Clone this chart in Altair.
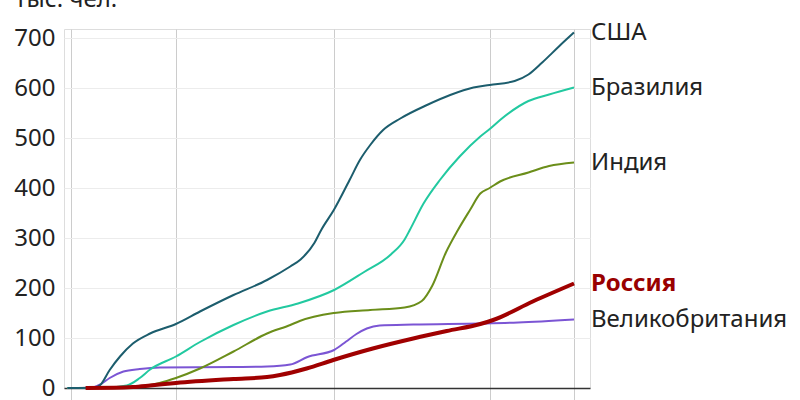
import altair as alt
import pandas as pd

FONT = "Noto Sans"

# ---- data (thousands of deaths, cumulative) ----
usa_dates = ["2020-02-26", "2020-03-28", "2020-04-04", "2020-04-15", "2020-04-27", "2020-05-12",
             "2020-06-01", "2020-07-01", "2020-07-29", "2020-09-06", "2020-10-15", "2020-11-11",
             "2020-11-23", "2020-12-09", "2020-12-17", "2021-01-01", "2021-01-19", "2021-01-31",
             "2021-02-12", "2021-02-27", "2021-03-19", "2021-04-19", "2021-05-16", "2021-06-12",
             "2021-07-01", "2021-07-30", "2021-08-15", "2021-08-31", "2021-09-20", "2021-10-07"]
usa_vals = [0, 0.5, 6, 36, 63, 89,
            109, 128, 153, 186, 216, 243,
            257, 290, 316, 357, 416, 456,
            486, 516, 539, 566, 586, 601,
            606, 614, 627, 651, 684, 711]

brazil_dates = ["2020-02-26", "2020-04-10", "2020-05-05", "2020-05-20", "2020-06-01", "2020-07-01",
                "2020-07-29", "2020-09-06", "2020-10-15", "2020-11-20", "2021-01-01", "2021-02-04",
                "2021-03-08", "2021-03-24", "2021-03-30", "2021-04-15", "2021-05-04", "2021-05-27",
                "2021-06-20", "2021-07-01", "2021-07-13", "2021-08-15", "2021-09-08", "2021-10-07"]
brazil_vals = [0, 0.5, 5, 20, 37, 63,
               92, 126, 153, 169, 196, 231,
               267, 297, 316, 369, 416, 463,
               503, 518, 536, 574, 587, 601]

india_dates = ["2020-02-26", "2020-04-10", "2020-05-20", "2020-06-12", "2020-07-01", "2020-07-29",
               "2020-09-06", "2020-10-15", "2020-11-11", "2020-11-22", "2021-01-01", "2021-02-12",
               "2021-03-24", "2021-04-13", "2021-04-25", "2021-05-11", "2021-05-25", "2021-06-08",
               "2021-06-20", "2021-07-01", "2021-07-13", "2021-08-15", "2021-09-08", "2021-10-07"]
india_vals = [0, 0.3, 3, 10, 20, 39,
              73, 109, 126, 134, 150, 156,
              161, 174, 204, 271, 316, 356,
              389, 400, 413, 431, 444, 451]

uk_dates = ["2020-02-26", "2020-03-25", "2020-04-05", "2020-04-15", "2020-05-01", "2020-05-20",
            "2020-06-12", "2020-09-06", "2020-10-15", "2020-11-11", "2020-12-01", "2021-01-01",
            "2021-01-15", "2021-01-27", "2021-02-08", "2021-02-23", "2021-04-03", "2021-06-20",
            "2021-08-03", "2021-10-07"]
uk_vals = [0, 0.5, 8, 20, 33, 38,
           41, 42, 43, 47, 62, 76,
           93, 108, 119, 125, 127, 129,
           131, 137]

russia_dates = ["2020-03-18", "2020-04-20", "2020-05-12", "2020-06-01", "2020-07-01", "2020-09-06",
                "2020-10-15", "2020-10-30", "2020-11-30", "2020-12-31", "2021-02-15", "2021-04-03",
                "2021-05-12", "2021-06-20", "2021-07-05", "2021-08-20", "2021-10-07"]
russia_vals = [0, 0.5, 2, 5, 10, 18,
               22, 26, 39, 56, 79, 99,
               114, 128, 136, 173, 209]

countries = ["США", "Бразилия", "Индия", "Великобритания", "Россия"]
colors = ["#1c5d6d", "#22c9a0", "#6b8e1a", "#7b55d4", "#a00000"]

series = [
    ("Великобритания", uk_dates, uk_vals),
    ("Индия", india_dates, india_vals),
    ("Бразилия", brazil_dates, brazil_vals),
    ("США", usa_dates, usa_vals),
]

rows = []
for name, ds, vs in series:
    for d, v in zip(ds, vs):
        rows.append({"country": name, "date": d, "value": v})
others_df = pd.DataFrame(rows)
russia_df = pd.DataFrame({"country": "Россия", "date": russia_dates, "value": russia_vals})

labels_df = pd.DataFrame({
    "country": [s[0] for s in series],
    "date": [s[1][-1] for s in series],
    "value": [s[2][-1] for s in series],
})
russia_label_df = pd.DataFrame({"country": ["Россия"], "date": [russia_dates[-1]],
                                "value": [russia_vals[-1]]})
title_df = pd.DataFrame({"t": ["Тыс. чел."]})

y_ticks = [0, 100, 200, 300, 400, 500, 600, 700]

x_scale = alt.Scale(
    type="utc",
    domain=[alt.DateTime(year=2020, month=2, date=21, hours=21, utc=True),
            alt.DateTime(year=2021, month=10, date=25, hours=14, utc=True)],
)
x_axis = alt.Axis(
    values=[alt.DateTime(year=2020, month=3, date=1, utc=True),
            alt.DateTime(year=2020, month=7, date=1, utc=True),
            alt.DateTime(year=2021, month=1, date=1, utc=True),
            alt.DateTime(year=2021, month=7, date=1, utc=True),
            alt.DateTime(year=2021, month=10, date=7, utc=True)],
    grid=True, gridColor="#cccccc", gridWidth=1,
    labels=False, ticks=True, tickColor="#cccccc", tickSize=12, tickWidth=1,
    domain=True, domainColor="#333333", domainWidth=1.3, title=None,
)
y_scale = alt.Scale(domain=[0, 718], nice=False, zero=True)
y_axis = alt.Axis(
    values=y_ticks, grid=True, gridColor="#ececec", gridWidth=1,
    domain=False, ticks=False, labelFontSize=24, labelFont=FONT,
    labelColor="#222222", labelPadding=9, title=None,
)

color_scale = alt.Scale(domain=countries, range=colors)

others = alt.Chart(others_df).mark_line(strokeWidth=2, interpolate="monotone").encode(
    x=alt.X("date:T", scale=x_scale, axis=x_axis),
    y=alt.Y("value:Q", scale=y_scale, axis=y_axis),
    color=alt.Color("country:N", scale=color_scale, legend=None),
    detail="country:N",
)

russia = alt.Chart(russia_df).mark_line(strokeWidth=4, interpolate="monotone").encode(
    x="date:T",
    y="value:Q",
    color=alt.Color("country:N", scale=color_scale, legend=None),
)

labels = alt.Chart(labels_df).mark_text(
    align="left", baseline="middle", dx=17, fontSize=24, font=FONT, color="#222222"
).encode(x="date:T", y="value:Q", text="country:N")

russia_label = alt.Chart(russia_label_df).mark_text(
    align="left", baseline="middle", dx=17, fontSize=24, font=FONT,
    color="#990000", fontWeight="bold"
).encode(x="date:T", y="value:Q", text="country:N")

title = alt.Chart(title_df).mark_text(
    align="left", baseline="alphabetic", fontSize=24, font=FONT, color="#222222"
).encode(x=alt.value(-50), y=alt.value(-22), text="t:N")

chart = alt.layer(others, russia, labels, russia_label, title).properties(
    width=526, height=359,
    autosize=alt.AutoSizeParams(type="none"),
    padding={"left": 64, "top": 29, "right": 210, "bottom": 12},
).configure_view(stroke=None).configure(background="white")

chart.save("out.html", embed_options={"renderer": "svg", "actions": False})
